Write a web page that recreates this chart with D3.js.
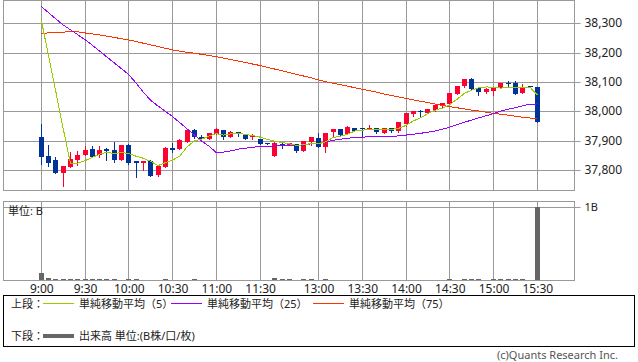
<!DOCTYPE html>
<html>
<head>
<meta charset="utf-8">
<script src="https://cdn.jsdelivr.net/npm/d3@7"></script>
<style>
  body { margin: 0; background: #fff; }
  text { font-family: "Noto Sans", "Noto Sans CJK JP", sans-serif; }
</style>
</head>
<body>
<script>
// 5-minute slots, 0 = 9:00, 68 = 15:30 (lunch break compressed)
var tickSlots = [0, 6, 12, 18, 24, 30, 38, 44, 50, 56, 62, 68],
    tickLabels = ["9:00", "9:30", "10:00", "10:30", "11:00", "11:30", "13:00", "13:30", "14:00", "14:30", "15:00", "15:30"];

var priceTicks = [37800, 37900, 38000, 38100, 38200, 38300];

var open = [37913,37849,37834,37789,37811,37834,37851,37872,37851,37872,37868,37834,37885,37831,37825,37831,37782,37811,37876,37872,37894,37936,37913,37906,37921,37936,37913,37928,37922,37911,37905,37891,37849,37888,37884,37889,37866,37894,37910,37879,37928,37938,37921,37944,37942,37938,37942,37927,37942,37934,37957,37991,38002,37993,38004,38019,38025,38059,38086,38110,38078,38067,38070,38080,38096,38097,38061,38086,38082];
var high = [37957,37885,37845,37814,37862,37866,37882,37882,37882,37876,37895,37885,37888,37831,37831,37834,37814,37879,37893,37906,37939,37939,37919,37927,37942,37937,37933,37930,37922,37922,37905,37891,37896,37896,37891,37889,37899,37913,37927,37925,37941,37940,37950,37944,37944,37955,37942,37942,37944,37962,37993,38002,38004,38008,38021,38027,38061,38087,38110,38113,38078,38078,38080,38095,38104,38104,38093,38086,38082];
var low = [37820,37815,37789,37746,37811,37816,37851,37843,37845,37834,37828,37834,37820,37777,37800,37780,37781,37811,37862,37872,37894,37909,37902,37906,37921,37907,37913,37916,37906,37906,37889,37890,37849,37874,37884,37861,37866,37885,37877,37862,37913,37920,37921,37934,37914,37938,37925,37927,37930,37928,37951,37985,37982,37993,38002,38016,38025,38059,38082,38076,38056,38061,38056,38080,38082,38058,38061,38082,37965];
var close = [37845,37825,37789,37814,37836,37851,37868,37845,37868,37866,37834,37885,37825,37823,37831,37781,37814,37876,37868,37901,37936,37912,37907,37926,37939,37911,37930,37921,37906,37916,37889,37890,37891,37883,37891,37866,37899,37911,37877,37925,37941,37920,37945,37934,37940,37944,37928,37942,37934,37962,37993,38002,37997,38008,38021,38027,38061,38087,38110,38076,38067,38075,38080,38095,38094,38058,38082,38082,37965];

var ma5 = [38311,38188,38066,37941,37822,37823,37832,37843,37854,37860,37856,37860,37856,37847,37840,37829,37815,37825,37834,37848,37879,37899,37905,37916,37924,37919,37923,37925,37921,37917,37912,37904,37898,37894,37889,37884,37886,37890,37889,37896,37911,37915,37922,37933,37936,37937,37938,37938,37938,37942,37952,37967,37978,37992,38004,38011,38023,38041,38061,38072,38080,38083,38082,38079,38082,38080,38082,38082,38056];
var ma25 = [38357,38336,38315,38294,38278,38261,38244,38225,38205,38185,38165,38145,38125,38096,38065,38037,38018,38000,37982,37961,37940,37919,37898,37881,37859,37861,37865,37871,37874,37878,37879,37880,37882,37882,37883,37885,37885,37889,37891,37895,37901,37905,37908,37911,37912,37913,37913,37915,37915,37916,37919,37922,37925,37929,37933,37939,37946,37954,37963,37970,37978,37985,37992,38001,38007,38012,38019,38024,38025];
var ma75 = [38266,38267,38269,38270,38271,38271,38267,38264,38260,38256,38252,38247,38243,38238,38232,38226,38221,38215,38209,38205,38201,38198,38194,38190,38186,38181,38176,38171,38166,38161,38156,38150,38144,38138,38132,38126,38120,38114,38107,38101,38096,38091,38086,38080,38075,38070,38065,38059,38054,38049,38044,38039,38034,38030,38025,38020,38016,38012,38008,38004,38001,37997,37993,37990,37987,37983,37980,37977,37974];

// volume in B
var volume = [0.105,0.03,0.02,0.02,0.02,0.02,0.02,0.02,0.02,0.02,0.02,0,0.015,0.015,0,0,0,0.015,0,0,0,0.015,0,0,0,0,0,0,0,0,0,0,0.025,0.02,0.015,0,0.02,0.015,0,0.015,0,0,0,0,0,0,0,0,0,0,0,0,0,0,0,0,0.015,0,0.015,0.015,0.015,0,0.015,0.015,0.015,0.015,0.015,0,1.0];

var legendItems = [
    {label: "単純移動平均（5）", color: "#99cc00"},
    {label: "単純移動平均（25）", color: "#9900ff"},
    {label: "単純移動平均（75）", color: "#ff3300"}
];

var upColor = "#ff0033",
    downColor = "#003399",
    gridColor = "#999999";

var svg = d3.select("body").append("svg")
    .attr("width", 638)
    .attr("height", 362);

var x = d3.scaleLinear().domain([0, 68]).range([41.3, 537.3]);
var yP = d3.scaleLinear().domain([37730.8, 38377.6]).range([190.3, 0.5]);
var yV = d3.scaleLinear().domain([0, 1]).range([280.3, 207.3]);

function px(i) { return Math.floor(x(i)) + 0.5; }
function crisp(v) { return Math.round(v) + 0.5; }

var candles = open.map(function(o, i) {
    return {i: i, o: o, h: high[i], l: low[i], c: close[i]};
});

// ---- upper panel grid
var upper = svg.append("g");

upper.selectAll(".vgrid")
    .data(tickSlots)
    .enter().append("line")
    .attr("x1", function(d) { return px(d); })
    .attr("x2", function(d) { return px(d); })
    .attr("y1", 0.5)
    .attr("y2", 190.5)
    .attr("stroke", gridColor);

upper.selectAll(".hgrid")
    .data(priceTicks)
    .enter().append("line")
    .attr("x1", 3.5)
    .attr("x2", 574.5)
    .attr("y1", function(d) { return crisp(yP(d)); })
    .attr("y2", function(d) { return crisp(yP(d)); })
    .attr("stroke", gridColor);

upper.append("rect")
    .attr("x", 3.5).attr("y", 0.5)
    .attr("width", 571).attr("height", 190)
    .attr("fill", "none")
    .attr("stroke", gridColor);

// price axis on the right
var priceAxis = svg.append("g")
    .attr("transform", "translate(574.5,0)")
    .call(d3.axisRight(yP).tickValues(priceTicks).tickSize(6).tickPadding(4).tickFormat(d3.format(",")));
priceAxis.select(".domain").remove();
priceAxis.selectAll(".tick").attr("transform", function(d) { return "translate(0," + crisp(yP(d)) + ")"; });
priceAxis.selectAll(".tick line").attr("stroke", gridColor);
priceAxis.selectAll(".tick text").attr("font-size", 12).attr("fill", "#222")
    .style("font-family", "'Noto Sans', sans-serif");

// ---- candles
var cg = svg.append("g");

cg.selectAll(".wick")
    .data(candles)
    .enter().append("line")
    .attr("x1", function(d) { return px(d.i); })
    .attr("x2", function(d) { return px(d.i); })
    .attr("y1", function(d) { return Math.round(yP(d.h)); })
    .attr("y2", function(d) { return Math.round(yP(d.l)) + 1; })
    .attr("stroke", function(d) { return d.c >= d.o ? upColor : downColor; })
    .attr("shape-rendering", "crispEdges");

cg.selectAll(".body")
    .data(candles)
    .enter().append("rect")
    .attr("x", function(d) { return Math.floor(x(d.i)) - 2; })
    .attr("y", function(d) { return Math.round(yP(Math.max(d.o, d.c))); })
    .attr("width", 5)
    .attr("height", function(d) {
        return Math.max(1, Math.round(yP(Math.min(d.o, d.c))) - Math.round(yP(Math.max(d.o, d.c))));
    })
    .attr("fill", function(d) { return d.c >= d.o ? upColor : downColor; })
    .attr("shape-rendering", "crispEdges");

// ---- moving averages
var maLine = function(arr) {
    return d3.line()
        .x(function(d, i) { return x(i); })
        .y(function(d) { return yP(d); })(arr);
};

[ma75, ma25, ma5].forEach(function(arr, k) {
    svg.append("path")
        .attr("d", maLine(arr))
        .attr("fill", "none")
        .attr("stroke", legendItems[2 - k].color)
        .attr("stroke-width", 1)
        .attr("shape-rendering", "crispEdges");
});

// ---- lower panel (volume)
var lower = svg.append("g");

lower.selectAll(".vgrid")
    .data(tickSlots)
    .enter().append("line")
    .attr("x1", function(d) { return px(d); })
    .attr("x2", function(d) { return px(d); })
    .attr("y1", 201.5)
    .attr("y2", 280.5)
    .attr("stroke", gridColor);

lower.append("line")
    .attr("x1", 3.5).attr("x2", 574.5)
    .attr("y1", crisp(yV(1))).attr("y2", crisp(yV(1)))
    .attr("stroke", gridColor);

lower.append("rect")
    .attr("x", 3.5).attr("y", 201.5)
    .attr("width", 571).attr("height", 79)
    .attr("fill", "none")
    .attr("stroke", gridColor);

lower.selectAll(".vol")
    .data(volume)
    .enter().append("rect")
    .attr("x", function(d, i) { return Math.floor(x(i)) - 2; })
    .attr("y", function(d) { return yV(d); })
    .attr("width", 5)
    .attr("height", function(d) { return yV(0) - yV(d); })
    .attr("fill", "#666666")
    .attr("shape-rendering", "crispEdges");

var volAxis = svg.append("g")
    .attr("transform", "translate(574.5,0)")
    .call(d3.axisRight(yV).tickValues([1]).tickSize(6).tickPadding(4).tickFormat(function(d) { return d + "B"; }));
volAxis.select(".domain").remove();
volAxis.selectAll(".tick").attr("transform", function(d) { return "translate(0," + crisp(yV(d)) + ")"; });
volAxis.selectAll(".tick line").attr("stroke", gridColor);
volAxis.selectAll(".tick text").attr("font-size", 11).attr("fill", "#222")
    .style("font-family", "'Noto Sans', sans-serif");

svg.append("text")
    .attr("x", 8).attr("y", 215)
    .attr("font-size", 11)
    .attr("fill", "#222")
    .text("単位: B");

// ---- time axis
var timeAxis = svg.append("g")
    .attr("transform", "translate(0,280.5)")
    .call(d3.axisBottom(x).tickValues(tickSlots).tickSize(0).tickPadding(4)
        .tickFormat(function(d, i) { return tickLabels[i]; }));
timeAxis.select(".domain").remove();
timeAxis.selectAll(".tick text").attr("font-size", 12).attr("fill", "#222")
    .style("font-family", "'Noto Sans', sans-serif");

// ---- legend box
var legend = svg.append("g");

legend.append("rect")
    .attr("x", 3.5).attr("y", 295.5)
    .attr("width", 631).attr("height", 51)
    .attr("fill", "none")
    .attr("stroke", "#000");

legend.append("text")
    .attr("x", 11).attr("y", 308)
    .attr("font-size", 11).attr("fill", "#222")
    .text("上段：");

var itemX = [43, 171, 313];
legendItems.forEach(function(item, k) {
    legend.append("line")
        .attr("x1", itemX[k]).attr("x2", itemX[k] + 31)
        .attr("y1", 303.5).attr("y2", 303.5)
        .attr("stroke", item.color);
    legend.append("text")
        .attr("x", itemX[k] + 36).attr("y", 308)
        .attr("font-size", 11).attr("fill", "#222")
        .text(item.label);
});

legend.append("text")
    .attr("x", 11).attr("y", 340)
    .attr("font-size", 11).attr("fill", "#222")
    .text("下段：");

legend.append("line")
    .attr("x1", 43).attr("x2", 74)
    .attr("y1", 336).attr("y2", 336)
    .attr("stroke", "#666666")
    .attr("stroke-width", 4);

legend.append("text")
    .attr("x", 79).attr("y", 340)
    .attr("font-size", 11).attr("fill", "#222")
    .text("出来高 単位:(B株/口/枚)");

svg.append("text")
    .attr("x", 618).attr("y", 359)
    .attr("text-anchor", "end")
    .attr("font-size", 11)
    .attr("fill", "#555")
    .text("(c)Quants Research Inc.");
</script>
</body>
</html>
